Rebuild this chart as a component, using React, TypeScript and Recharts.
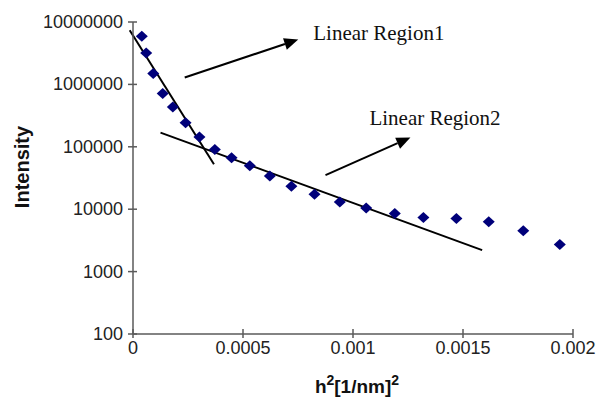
import React from "react";
import { ScatterChart, Scatter, XAxis, YAxis, ReferenceLine, Label } from "recharts";

const hSquared = [
  0.00004, 0.00006, 0.000092, 0.000135, 0.000181, 0.000239, 0.000302, 0.000372,
  0.000448, 0.000531, 0.000622, 0.00072, 0.000825, 0.00094, 0.00106, 0.00119,
  0.00132, 0.00147, 0.001617, 0.001774, 0.00194,
];
const intensity = [
  5900000, 3190000, 1490000, 714000, 436000, 242000, 144000, 90600,
  66500, 49500, 33900, 23400, 17300, 13100, 10500, 8550,
  7380, 7110, 6280, 4510, 2730,
];

const xTicks = [0, 0.0005, 0.001, 0.0015, 0.002];
const yTicks = [100, 1000, 10000, 100000, 1000000, 10000000];

// fitted straight lines (in log space) and annotation arrows
const region1Fit = [
  { x: -0.000015, y: 7360000 },
  { x: 0.000368, y: 52700 },
];
const region2Fit = [
  { x: 0.000125, y: 169000 },
  { x: 0.001587, y: 2210 },
];
const arrow1 = [
  { x: 0.000235, y: 1290000 },
  { x: 0.000751, y: 5230000 },
];
const arrow2 = [
  { x: 0.000875, y: 35100 },
  { x: 0.001261, y: 141000 },
];

const points = hSquared.map((x, i) => ({ x, y: intensity[i] }));

const AXIS = "#5a5a5a";
const SANS = "Liberation Sans, Arial, sans-serif";
const SERIF = "Liberation Serif, Times New Roman, serif";

const Diamond = (props: any) => {
  const { cx, cy } = props;
  if (cx == null || cy == null) return null;
  return (
    <polygon
      points={`${cx},${cy - 5.5} ${cx + 6},${cy} ${cx},${cy + 5.5} ${cx - 6},${cy}`}
      fill="#00007a"
    />
  );
};

const YTick = (props: any) => {
  const { x, y, payload } = props;
  const ax = x + 10;
  return (
    <g>
      <line x1={ax - 5} x2={ax + 4} y1={y} y2={y} stroke={AXIS} strokeWidth={1.5} />
      <text x={x} y={y} textAnchor="end" dominantBaseline="central" fontFamily={SANS} fontSize={18} fill="#222">
        {payload.value}
      </text>
    </g>
  );
};

const XTick = (props: any) => {
  const { x, y, payload } = props;
  const ay = y - 13;
  return (
    <g>
      <line x1={x} x2={x} y1={ay - 5} y2={ay + 4} stroke={AXIS} strokeWidth={1.5} />
      <text x={x} y={y + 1} textAnchor="middle" dominantBaseline="central" fontFamily={SANS} fontSize={18} fill="#222">
        {String(payload.value)}
      </text>
    </g>
  );
};

const arrowShape = (text: string, dx: number, dy: number) => (props: any) => {
  const { x1, y1, x2, y2 } = props;
  if (x1 == null) return null;
  const ang = Math.atan2(y2 - y1, x2 - x1);
  const len = 14;
  const half = 6;
  const bx = x2 - len * Math.cos(ang);
  const by = y2 - len * Math.sin(ang);
  const px = -Math.sin(ang) * half;
  const py = Math.cos(ang) * half;
  return (
    <g>
      <line x1={x1} y1={y1} x2={bx} y2={by} stroke="#000" strokeWidth={2} />
      <polygon points={`${x2},${y2} ${bx + px},${by + py} ${bx - px},${by - py}`} fill="#000" />
      <text x={x2 + dx} y={y2 + dy} fontFamily={SERIF} fontSize={21} fill="#111">
        {text}
      </text>
    </g>
  );
};

export default function App() {
  return (
    <div style={{ position: "absolute", left: 0, top: 0, background: "#fff" }}>
      <ScatterChart width={603} height={401} margin={{ top: 22, right: 30, bottom: 17, left: 0 }}>
        <XAxis
          type="number"
          dataKey="x"
          domain={[0, 0.002]}
          ticks={xTicks}
          allowDataOverflow
          height={50}
          tickSize={5}
          tickMargin={8}
          tickLine={false}
          axisLine={{ stroke: AXIS, strokeWidth: 1.5 }}
          tick={<XTick />}
        >
          <Label
            content={(p: any) => {
              const vb = p.viewBox;
              return (
                <text x={vb.x + vb.width / 2 + 4} y={vb.y + 52} textAnchor="middle" dominantBaseline="central" fontFamily={SANS} fontWeight="bold" fontSize={19} fill="#111">
                  h<tspan fontSize={14} dy={-6}>2</tspan>
                  <tspan dy={6}>[1/nm]</tspan>
                  <tspan fontSize={14} dy={-6}>2</tspan>
                </text>
              );
            }}
          />
        </XAxis>
        <YAxis
          type="number"
          dataKey="y"
          scale="log"
          domain={[100, 10000000]}
          ticks={yTicks}
          allowDataOverflow
          width={133}
          tickSize={5}
          tickMargin={5}
          tickLine={false}
          axisLine={{ stroke: AXIS, strokeWidth: 1.5 }}
          tick={<YTick />}
          interval={0}
        >
          <Label
            content={() => (
              <text x={22} y={167} transform="rotate(-90 22 167)" textAnchor="middle" dominantBaseline="central" fontFamily={SANS} fontWeight="bold" fontSize={20} fill="#111">
                Intensity
              </text>
            )}
          />
        </YAxis>
        <Scatter data={points} shape={Diamond} isAnimationActive={false} />
        <ReferenceLine segment={region1Fit} ifOverflow="visible" stroke="#000" strokeWidth={2} />
        <ReferenceLine segment={region2Fit} ifOverflow="visible" stroke="#000" strokeWidth={2} />
        <ReferenceLine segment={arrow1} ifOverflow="visible" shape={arrowShape("Linear Region1", 15, 0)} />
        <ReferenceLine segment={arrow2} ifOverflow="visible" shape={arrowShape("Linear Region2", -41, -12)} />
      </ScatterChart>
    </div>
  );
}
